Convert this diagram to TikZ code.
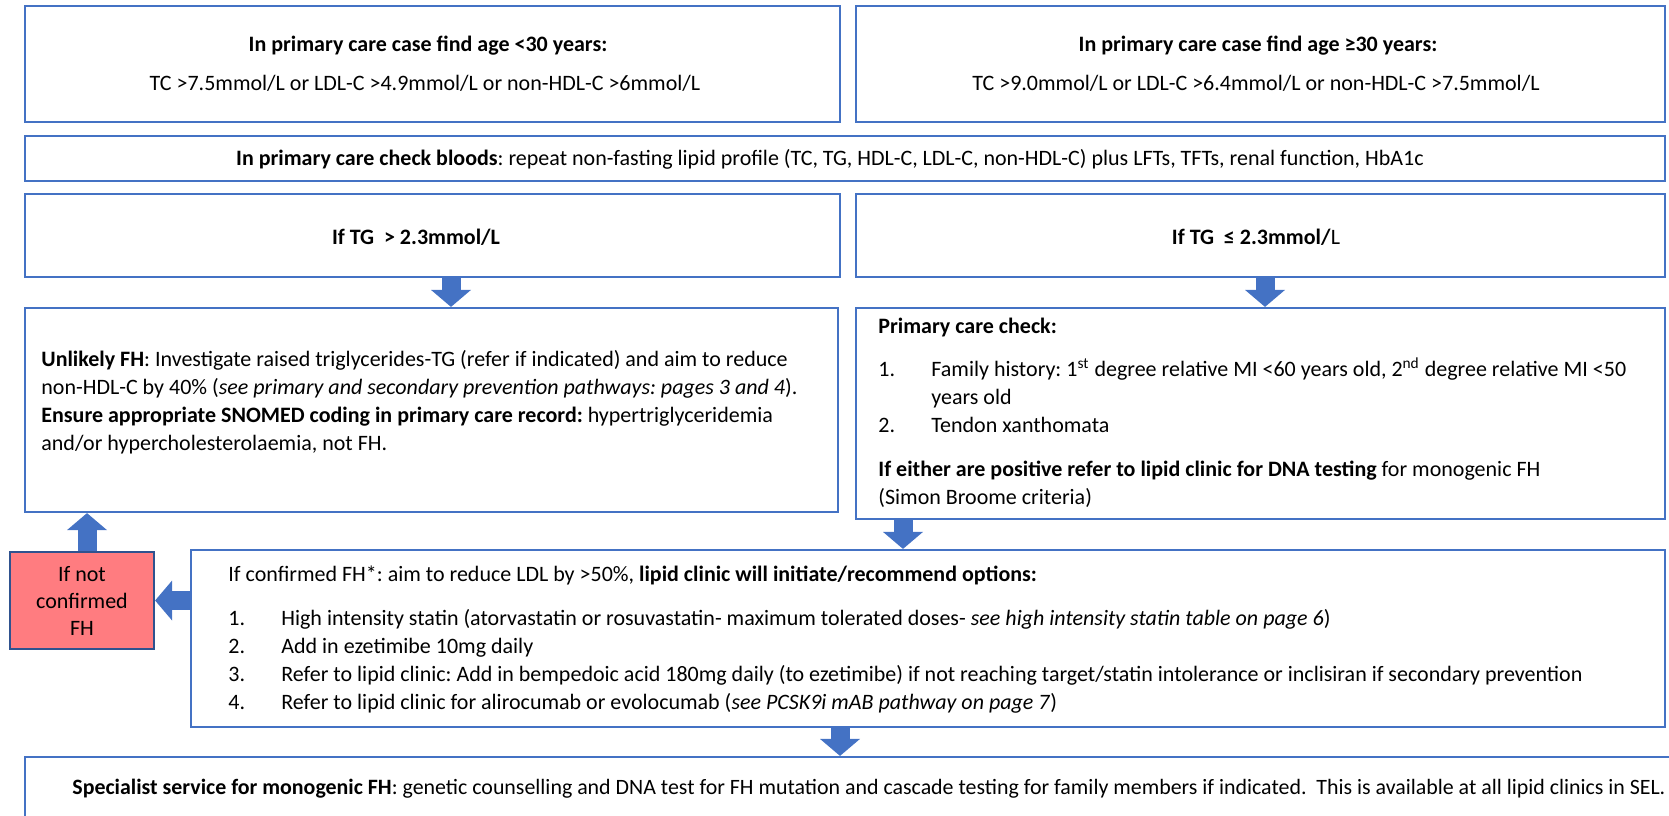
\documentclass[tikz,border=0pt]{standalone}
\usepackage{fontspec}
\setmainfont{Carlito}
\usetikzlibrary{arrows.meta}
\usetikzlibrary{fit}
\usetikzlibrary{positioning}
\definecolor{box-blue}{RGB}{68, 114, 196}
\definecolor{edge-blue}{RGB}{47, 82, 143}
\definecolor{salmon-red}{RGB}{255, 124, 128}
\newcommand{\itemno}[1]{\makebox[26.5pt][l]{#1}}
\frenchspacing

\begin{document}
\begin{tikzpicture}[x=0.5pt, y=-0.5pt,
    box/.style={draw=box-blue, line width=1.1pt, inner sep=0pt},
    redbox/.style={draw=edge-blue, fill=salmon-red, line width=1.1pt, inner sep=0pt},
    txt/.style={inner sep=0pt, font=\fontsize{11}{14}\selectfont, align=left},
    ctxt/.style={inner sep=0pt, font=\fontsize{11}{14}\selectfont, align=center},
    flow/.style={draw=box-blue, line width=9.5pt, -{Triangle[length=8.5pt, width=20pt, line width=0pt]}}]
  \useasboundingbox (0,0) rectangle (1669,815);

  % boxes
  \node[box, fit={(25,6) (840,122)}] (ageyoung) {};
  \node[box, fit={(856,6) (1665,122)}] (ageold) {};
  \node[box, fit={(25,136) (1665,181)}] (bloods) {};
  \node[box, fit={(25,194) (840,277)}] (tghigh) {};
  \node[box, fit={(856,194) (1665,277)}] (tglow) {};
  \node[box, fit={(25,308) (838,512)}] (unlikely) {};
  \node[box, fit={(856,308) (1665,519)}] (check) {};
  \node[redbox, fit={(10,552) (154,649)}] (notfh) {};
  \node[box, fit={(191,550) (1665,727)}] (confirmed) {};
  \node[box, fit={(25,757) (1700,850)}] (specialist) {};

  % texts (multi-line nodes sit on their last baseline)
  \node[ctxt, anchor=base] (youngtitle) at (428,51) {\textbf{In primary care case find age <30 years:}};
  \node[ctxt, anchor=base] (younglimits) at (425,90) {TC >7.5mmol/L or LDL-C >4.9mmol/L or non-HDL-C >6mmol/L};
  \node[ctxt, anchor=base] (oldtitle) at (1258,51) {\textbf{In primary care case find age ≥30 years:}};
  \node[ctxt, anchor=base] (oldlimits) at (1256,90) {TC >9.0mmol/L or LDL-C >6.4mmol/L or non-HDL-C >7.5mmol/L};
  \node[ctxt, anchor=base] (bloodstxt) at (830,165) {\textbf{In primary care check bloods}: repeat non-fasting lipid profile (TC, TG, HDL-C, LDL-C, non-HDL-C) plus LFTs, TFTs, renal function, HbA1c};
  \node[ctxt, anchor=base] (tghightxt) at (416,244) {\textbf{If TG\ \ > 2.3mmol/L}};
  \node[ctxt, anchor=base] (tglowtxt) at (1256,244) {\textbf{If TG\ \ ≤ 2.3mmol/}L};
  \node[txt, anchor=base west] (unlikelytxt) at (41,450) {\textbf{Unlikely FH}: Investigate raised triglycerides-TG (refer if indicated) and aim to reduce\\
    non-HDL-C by 40\% (\textit{see primary and secondary prevention pathways: pages 3 and 4}).\\
    \textbf{Ensure appropriate SNOMED coding in primary care record:} hypertriglyceridemia\\
    and/or hypercholesterolaemia, not FH.};
  \node[txt, anchor=base west] (checktxt) at (878,504) {\textbf{Primary care check:}\\[7.5pt]
    \itemno{1.}Family history: 1\textsuperscript{st} degree relative MI <60 years old, 2\textsuperscript{nd} degree relative MI <50\\
    \hspace*{26.5pt}years old\\
    \itemno{2.}Tendon xanthomata\\[8pt]
    \textbf{If either are positive refer to lipid clinic for DNA testing} for monogenic FH\\
    (Simon Broome criteria)};
  \node[ctxt, anchor=base, font=\fontsize{11}{13.3}\selectfont] (notfhtxt) at (82,635) {If not\\confirmed\\FH};
  \node[txt, anchor=base west] (confirmedtxt) at (228,709) {If confirmed FH*: aim to reduce LDL by >50\%, \textbf{lipid clinic will initiate/recommend options:}\\[8pt]
    \itemno{1.}High intensity statin (atorvastatin or rosuvastatin- maximum tolerated doses- \textit{see high intensity statin table on page 6})\\
    \itemno{2.}Add in ezetimibe 10mg daily\\
    \itemno{3.}Refer to lipid clinic: Add in bempedoic acid 180mg daily (to ezetimibe) if not reaching target/statin intolerance or inclisiran if secondary prevention\\
    \itemno{4.}Refer to lipid clinic for alirocumab or evolocumab (\textit{see PCSK9i mAB pathway on page 7})};
  \node[txt, anchor=base west, font=\fontsize{10.95}{14}\selectfont] (specialisttxt) at (72,794) {\textbf{Specialist service for monogenic FH}: genetic counselling and DNA test for FH mutation and cascade testing for family members if indicated.\ \ This is available at all lipid clinics in SEL.};

  % arrows
  \coordinate (tohigh) at ([xshift=9.25pt]tghigh.south);
  \coordinate (tolow) at ([xshift=2.25pt]tglow.south);
  \coordinate (toconf) at ([xshift=-12.5pt]confirmed.north);
  \coordinate (tospec) at ([xshift=-44pt]confirmed.south);
  \coordinate (toup) at ([xshift=2.5pt]notfh.north);
  \draw[flow] (tohigh) -- (tohigh |- unlikely.north);
  \draw[flow] (tolow) -- (tolow |- check.north);
  \draw[flow] (toconf |- check.south) -- (toconf);
  \draw[flow] (tospec) -- (tospec |- specialist.north);
  \draw[flow] (toup) -- (toup |- unlikely.south);
  \draw[flow] (notfh.east -| confirmed.west) -- (notfh.east);
\end{tikzpicture}
\end{document}
